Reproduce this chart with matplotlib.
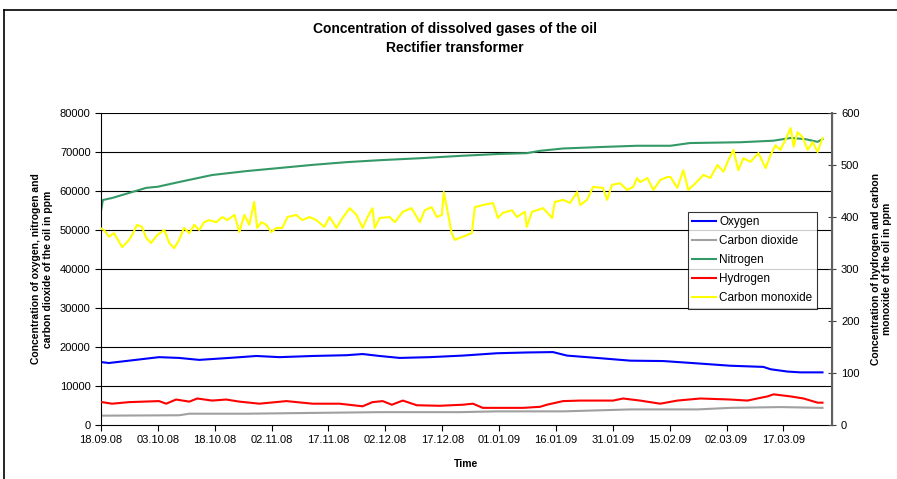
import numpy as np
import matplotlib
matplotlib.use("Agg")
import matplotlib.pyplot as plt
import matplotlib.dates as mdates
from datetime import datetime

plt.rcParams['font.family'] = ['Liberation Sans', 'DejaVu Sans']

start = datetime(2008, 9, 18)

# days since 18.09.08 and ppm values
oxygen_days = [0.3, 2.1, 7.4, 15.3, 20.6, 25.9, 33.8, 41.0, 47.1, 55.8, 64.8, 69.0, 73.5, 78.8, 86.7,
               95.4, 104.4, 112.3, 119.2, 122.9, 130.8, 139.6, 148.3, 157.3, 166.0, 174.7, 176.6,
               181.1, 184.5, 189.0, 190.3]
oxygen = [16100, 15900, 16500, 17400, 17200, 16700, 17200, 17700, 17400, 17700, 17900, 18200, 17700,
          17200, 17400, 17800, 18400, 18600, 18700, 17800, 17200, 16500, 16400, 15800, 15200, 14900,
          14300, 13700, 13500, 13500, 13500]

co2_days = [0.3, 20.6, 23.3, 38.3, 55.8, 73.5, 94.6, 104.4, 121.9, 139.6, 157.3, 166.0, 179.2, 190.3]
co2 = [2400, 2500, 2900, 2900, 3100, 3300, 3300, 3500, 3500, 4000, 4000, 4400, 4600, 4400]

nitrogen_days = [0, 0.5, 2.9, 7.4, 11.9, 15.0, 20.6, 29.3, 38.3, 47.1, 55.8, 64.8, 73.5, 84.1, 94.6,
                 105.0, 112.3, 115.8, 121.9, 132.4, 141.4, 150.2, 155.4, 168.6, 177.4, 181.9, 185.8,
                 189.0, 190.3]
nitrogen = [54900, 57700, 58200, 59500, 60800, 61100, 62300, 64100, 65100, 65900, 66700, 67400, 67900,
            68400, 69000, 69500, 69700, 70300, 70900, 71300, 71600, 71600, 72300, 72500, 72900, 73600,
            73300, 72600, 73300]

hydrogen_days = [0.3, 2.9, 7.4, 15.3, 17.2, 19.8, 23.3, 25.4, 29.3, 33.0, 36.5, 41.8, 48.9, 55.8, 62.9,
                 69.0, 71.6, 74.3, 76.7, 79.6, 83.3, 89.3, 95.4, 98.1, 100.7, 111.3, 115.8, 117.6, 121.9,
                 126.4, 135.1, 137.7, 142.2, 147.5, 152.0, 158.1, 166.0, 170.5, 173.1, 175.8, 177.4,
                 181.9, 185.3, 189.0, 190.3]
hydrogen = [44, 41, 44, 46, 41, 49, 45, 51, 47, 49, 45, 41, 46, 41, 41, 36, 44, 46, 39, 47, 38, 37, 39,
            41, 33, 33, 35, 39, 46, 47, 47, 51, 47, 41, 47, 51, 49, 47, 51, 55, 59, 55, 51, 43, 43]

co_days = [0, 0.8, 2.1, 3.4, 5.6, 7.4, 8.2, 9.5, 10.8, 11.9, 13.2, 14.8, 16.7, 18.0, 19.3, 20.6, 21.9,
           23.3, 24.6, 25.9, 27.2, 28.5, 30.4, 32.0, 33.3, 35.2, 36.5, 37.8, 39.1, 40.4, 41.2, 42.3,
           43.6, 44.9, 46.3, 47.8, 49.2, 51.5, 53.1, 55.0, 56.8, 58.9, 60.3, 62.1, 63.7, 65.6, 67.4,
           69.0, 70.3, 71.6, 72.2, 73.5, 76.1, 77.5, 79.6, 81.9, 84.1, 85.4, 87.2, 88.6, 89.9, 90.4,
           91.5, 92.5, 93.3, 95.4, 97.8, 98.6, 100.7, 103.4, 104.7, 106.0, 108.4, 109.7, 111.8, 112.3,
           113.7, 116.6, 119.0, 119.7, 121.9, 123.7, 125.6, 126.4, 128.2, 129.8, 132.4, 133.5, 134.8,
           136.9, 138.8, 140.4, 141.4, 142.2, 144.1, 145.7, 147.5, 149.4, 150.2, 152.0, 153.6, 154.9,
           156.8, 158.9, 160.7, 162.6, 164.2, 165.5, 166.8, 168.1, 169.4, 171.3, 173.4, 175.3, 176.6,
           177.9, 179.2, 180.5, 181.9, 182.7, 183.7, 185.0, 186.4, 187.7, 189.0, 190.3]
carbon_monoxide = [378, 375, 362, 369, 342, 356, 365, 385, 381, 360, 350, 365, 375, 350, 340, 356, 379,
                   369, 385, 375, 390, 394, 390, 400, 394, 404, 371, 404, 385, 429, 379, 390, 385, 371,
                   379, 379, 400, 404, 394, 400, 394, 381, 400, 379, 398, 417, 404, 379, 400, 417, 379,
                   398, 400, 390, 410, 417, 390, 413, 419, 400, 404, 448, 408, 369, 356, 362, 369, 419,
                   423, 427, 398, 408, 413, 400, 410, 381, 410, 417, 398, 429, 433, 427, 448, 423, 433,
                   458, 456, 433, 462, 465, 452, 458, 475, 467, 475, 452, 471, 477, 477, 456, 490, 452,
                   465, 481, 475, 500, 487, 510, 529, 490, 513, 506, 523, 494, 519, 538, 529, 548, 571,
                   535, 563, 554, 529, 544, 525, 552]

t0 = mdates.date2num(start)

def to_dates(days):
    return t0 + np.array(days)

fig = plt.figure(figsize=(8.97, 4.79), dpi=100)
ax = fig.add_axes([0.1126, 0.1127, 0.8149, 0.6514])
ax2 = ax.twinx()

l1, = ax.plot(to_dates(oxygen_days), oxygen, color='#0000FF', lw=1.5, label='Oxygen')
l2, = ax.plot(to_dates(co2_days), co2, color='#A0A0A0', lw=1.5, label='Carbon dioxide')
l3, = ax.plot(to_dates(nitrogen_days), nitrogen, color='#339966', lw=1.5, label='Nitrogen')
l4, = ax2.plot(to_dates(hydrogen_days), hydrogen, color='#FF0000', lw=1.5, label='Hydrogen')
l5, = ax2.plot(to_dates(co_days), carbon_monoxide, color='#FFFF00', lw=1.5, label='Carbon monoxide')

ax.set_ylim(0, 80000)
ax2.set_ylim(0, 600)
ax.set_xlim(t0, t0 + 192.8)
ax.set_yticks(np.arange(0, 80001, 10000))
ax2.set_yticks(np.arange(0, 601, 100))
ax.set_xticks([t0 + 15 * k for k in range(13)])
ax.xaxis.set_major_formatter(mdates.DateFormatter('%d.%m.%y'))

for y in range(10000, 80001, 10000):
    ax.axhline(y, color='black', lw=0.8, zorder=0)

for a in (ax, ax2):
    a.spines['top'].set_visible(False)
ax.spines['left'].set_color('black')
ax.spines['bottom'].set_color('black')
ax2.spines['right'].set_color('#606060')
ax2.spines['right'].set_linewidth(1.5)
ax2.spines['left'].set_visible(False)
ax2.spines['bottom'].set_visible(False)

ax.tick_params(axis='both', labelsize=8, length=4, width=0.8)
ax2.tick_params(axis='y', labelsize=8, length=6, width=0.8, direction='inout', color='#404040')

ax.set_xlabel('Time', fontsize=7.5, fontweight='bold', labelpad=10)
ax.set_ylabel('Concentration of oxygen, nitrogen and\ncarbon dioxide of the oil in ppm',
              fontsize=7.5, fontweight='bold', labelpad=5)
ax2.set_ylabel('Concentration of hydrogen and carbon\nmonoxide of the oil in ppm',
               fontsize=7.5, fontweight='bold', labelpad=8)

fig.text(0.507, 0.955, 'Concentration of dissolved gases of the oil\nRectifier transformer',
         ha='center', va='top', fontsize=10, fontweight='bold', linespacing=1.45)

leg = ax2.legend(handles=[l1, l2, l3, l4, l5], loc='upper left', bbox_to_anchor=(0.803, 0.683),
                 fontsize=8.5, frameon=True, fancybox=False, borderpad=0.35, labelspacing=0.6,
                 handlelength=2.0, handletextpad=0.3, borderaxespad=0)
leg.get_frame().set_edgecolor('black')
leg.get_frame().set_linewidth(0.8)

# outer chart border
fig.add_artist(plt.Line2D([4 / 897, 4 / 897], [0, 1 - 10 / 479], color='black', lw=1.2,
                          transform=fig.transFigure))
fig.add_artist(plt.Line2D([4 / 897, 1], [1 - 10 / 479, 1 - 10 / 479], color='black', lw=1.2,
                          transform=fig.transFigure))

fig.savefig('out.png', dpi=100)
